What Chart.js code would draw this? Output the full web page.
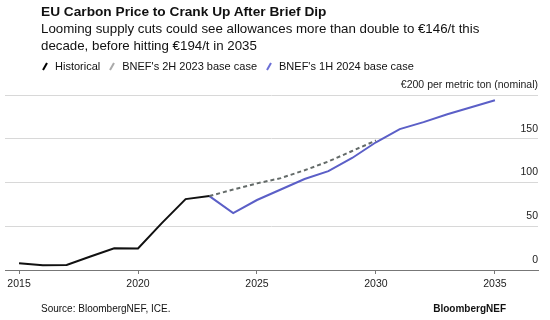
<!DOCTYPE html>
<html>
<head>
<meta charset="utf-8">
<script src="https://cdn.jsdelivr.net/npm/chart.js@4/dist/chart.umd.min.js"></script>
<style>
  body { margin: 0; background: #fff; font-family: "Liberation Sans", Arial, sans-serif; color: #111; }
  #wrap { position: relative; width: 550px; height: 320px; }
  #wrap canvas { position: absolute; left: 0; top: 0; }
  .txt { position: absolute; white-space: nowrap; }
  #title { left: 41px; top: 4px; font-size: 13.7px; font-weight: bold; }
  #sub { left: 41px; top: 20px; font-size: 13.3px; line-height: 17px; }
  #legend { left: 42px; top: 60px; font-size: 11px; display: flex; align-items: center; }
  #legend .item { display: flex; align-items: center; margin-right: 9px; }
  #legend svg { margin-right: 7px; }
  #source { left: 41px; top: 303px; font-size: 10px; }
  #brand { right: 44px; top: 303px; font-size: 10px; font-weight: bold; }
</style>
</head>
<body>
<div id="wrap">
  <canvas id="chart"></canvas>
  <div class="txt" id="title">EU Carbon Price to Crank Up After Brief Dip</div>
  <div class="txt" id="sub">Looming supply cuts could see allowances more than double to €146/t this<br>decade, before hitting €194/t in 2035</div>
  <div class="txt" id="legend">
    <span class="item"><svg width="6" height="9"><line x1="1" y1="8" x2="5" y2="1" stroke="#000" stroke-width="2"/></svg>Historical</span>
    <span class="item"><svg width="6" height="9"><line x1="1" y1="8" x2="5" y2="1" stroke="#aaa" stroke-width="2"/></svg>BNEF's 2H 2023 base case</span>
    <span class="item"><svg width="6" height="9"><line x1="1" y1="8" x2="5" y2="1" stroke="#6b6fd6" stroke-width="2"/></svg>BNEF's 1H 2024 base case</span>
  </div>
  <div class="txt" id="source">Source: BloombergNEF, ICE.</div>
  <div class="txt" id="brand">BloombergNEF</div>
</div>
<script>
// Historical EUA price (EUR/t)
const histYears = [2015, 2016, 2017, 2018, 2019, 2020, 2021, 2022, 2023];
const histValues = [7.7, 5.4, 5.8, 15.5, 24.8, 24.7, 53.6, 81, 84.5];

// BNEF 2H 2023 base case
const case2023Years = [2023, 2024, 2025, 2026, 2027, 2028, 2029, 2030];
const case2023Values = [84.5, 92, 99, 105, 114, 124, 136, 148];

// BNEF 1H 2024 base case
const case2024Years = [2023, 2024, 2025, 2026, 2027, 2028, 2029, 2030, 2031, 2032, 2033, 2034, 2035];
const case2024Values = [84.5, 65, 80, 92, 104, 113, 128, 146, 161, 169, 178, 186, 194];

const yTicks = [0, 50, 100, 150, 200];
const xTicks = [2015, 2020, 2025, 2030, 2035];

const toPoints = (xs, ys) => xs.map((x, i) => ({ x: x, y: ys[i] }));

new Chart(document.getElementById('chart'), {
    type: 'line',
    data: {
        datasets: [
            {
                label: 'Historical',
                data: toPoints(histYears, histValues),
                borderColor: '#111',
                borderWidth: 2,
                pointRadius: 0
            },
            {
                label: "BNEF's 2H 2023 base case",
                data: toPoints(case2023Years, case2023Values),
                borderColor: '#646b69',
                borderWidth: 2,
                borderDash: [4, 3],
                pointRadius: 0
            },
            {
                label: "BNEF's 1H 2024 base case",
                data: toPoints(case2024Years, case2024Values),
                borderColor: '#5b5fc7',
                borderWidth: 2,
                pointRadius: 0
            }
        ]
    },
    options: {
        responsive: true,
        maintainAspectRatio: false,
        animation: false,
        layout: { padding: { left: 5, right: 12, top: 95, bottom: 0 } },
        plugins: { legend: { display: false }, tooltip: { enabled: false } },
        scales: {
            x: {
                type: 'linear',
                min: 2014.41,
                max: 2036.81,
                afterBuildTicks: (scale) => {
                    scale.ticks = xTicks.map(v => ({ value: v }));
                },
                afterFit: (scale) => { scale.height = 50; },
                ticks: {
                    callback: (v) => String(v),
                    font: { family: 'Liberation Sans, Arial', size: 10.5 },
                    color: '#222',
                    padding: 4,
                    maxRotation: 0
                },
                grid: { drawOnChartArea: false, drawTicks: true, tickLength: 4, color: '#777' },
                border: { display: true, color: '#777', width: 1 }
            },
            y: {
                position: 'right',
                min: 0,
                max: 200,
                afterBuildTicks: (scale) => {
                    scale.ticks = yTicks.map(v => ({ value: v }));
                },
                afterFit: (scale) => { scale.width = 0; },
                ticks: {
                    mirror: true,
                    padding: 0,
                    labelOffset: -10,
                    callback: (v) => v === 200 ? '€200 per metric ton (nominal)' : String(v),
                    font: { family: 'Liberation Sans, Arial', size: 10.5 },
                    color: '#222'
                },
                grid: { drawTicks: false, color: '#d8d8d8', lineWidth: 1 },
                border: { display: false }
            }
        }
    }
});
</script>
</body>
</html>
